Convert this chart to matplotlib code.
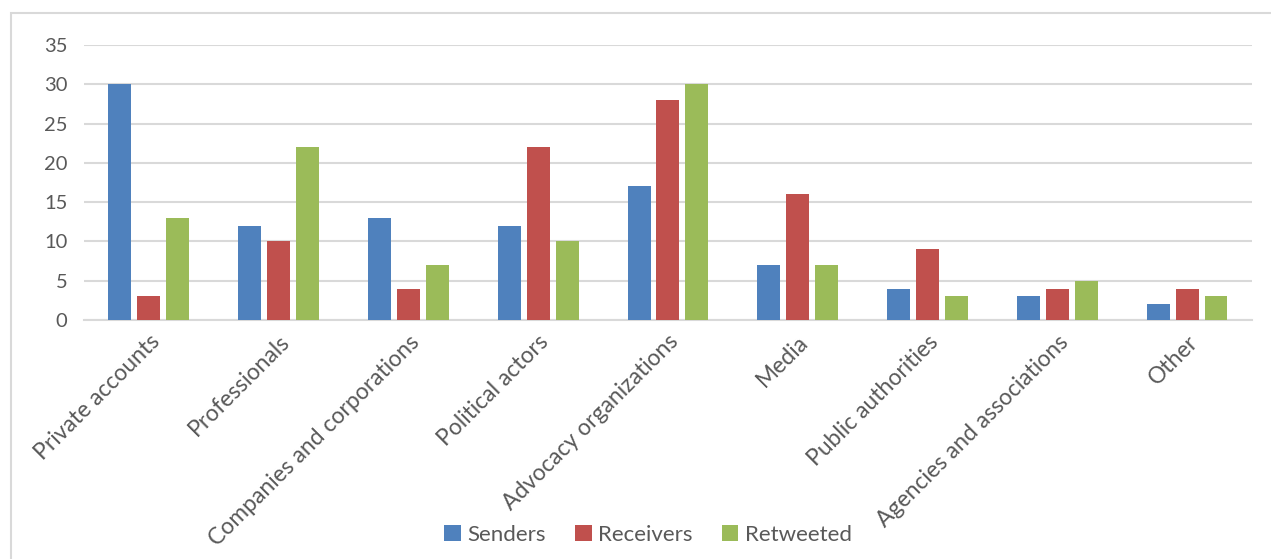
import numpy as np
import matplotlib.pyplot as plt
from matplotlib.patches import Rectangle

categories = ['Private accounts', 'Professionals', 'Companies and corporations',
              'Political actors', 'Advocacy organizations', 'Media',
              'Public authorities', 'Agencies and associations', 'Other']
senders = [30, 12, 13, 12, 17, 7, 4, 3, 2]
receivers = [3, 10, 4, 22, 28, 16, 9, 4, 4]
retweeted = [13, 22, 7, 10, 30, 7, 3, 5, 3]
series_names = ['Senders', 'Receivers', 'Retweeted']
colors = ['#4F81BD', '#C0504D', '#9BBB59']

plt.rcParams['font.family'] = ['Lato', 'DejaVu Sans']

fig = plt.figure(figsize=(12.71, 5.59), dpi=100)
ax = fig.add_axes([0.0661, 0.4275, 0.9189, 0.492])

x = np.arange(len(categories))
w = 0.177
step = 0.223
for i, (vals, name, c) in enumerate(zip([senders, receivers, retweeted], series_names, colors)):
    ax.bar(x + (i - 1) * step, vals, width=w, color=c, label=name, zorder=3)

ax.set_xlim(-0.5, len(categories) - 0.5)
ax.set_ylim(0, 35)
ax.set_yticks(range(0, 36, 5))
ax.yaxis.grid(True, color='#D9D9D9', linewidth=1.5, zorder=0)
for s in ['top', 'right', 'left']:
    ax.spines[s].set_visible(False)
ax.spines['bottom'].set_color('#D9D9D9')
ax.spines['bottom'].set_linewidth(1.5)
ax.tick_params(axis='y', length=0, labelsize=14.5, colors='#595959', pad=12)
ax.tick_params(axis='x', length=0, labelsize=16.5, colors='#595959', pad=8)
ax.set_xticks(x)
ax.set_xticklabels(categories, rotation=45, ha='right', rotation_mode='anchor')

fig.legend(loc='lower center', bbox_to_anchor=(0.51, -0.01), ncol=3, frameon=False,
           fontsize=16, labelcolor='#595959', handlelength=0.75, handleheight=0.75,
           handletextpad=0.3, columnspacing=1.3)

fig.patches.append(Rectangle((11 / 1271, -0.1), 1.2, 1 - 13 / 559 + 0.1,
                             transform=fig.transFigure, fill=False,
                             edgecolor='#D9D9D9', linewidth=1.5))

fig.savefig('out.png', dpi=100)
